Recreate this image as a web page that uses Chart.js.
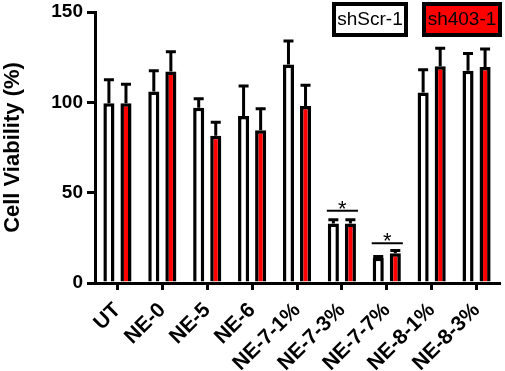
<!DOCTYPE html>
<html>
<head>
<meta charset="utf-8">
<script src="https://cdn.jsdelivr.net/npm/chart.js@4"></script>
<style>
  html, body { margin: 0; padding: 0; background: #fff; }
  #wrap { width: 505px; height: 371px; }
</style>
</head>
<body>
<div id="wrap"><canvas id="chart"></canvas></div>
<script>
  // ---- data ----
  const categories = ['UT', 'NE-0', 'NE-5', 'NE-6', 'NE-7-1%', 'NE-7-3%', 'NE-7-7%', 'NE-8-1%', 'NE-8-3%'];
  const scrMean = [99.5, 106, 97, 92.5, 121, 33, 14, 105.5, 117.5];
  const scrSd = [13, 11.5, 5, 16.5, 13, 2, 0.7, 12.5, 9.5];
  const kdMean = [99.5, 117, 81.5, 84.5, 98, 33, 16.5, 120, 119.5];
  const kdSd = [10.5, 11, 7.5, 12, 11.5, 2, 1.5, 10, 10];
  // height of the significance bar (in % units), null = none
  const sigLevel = [null, null, null, null, null, 40, 22, null, null];
  const yTicks = [0, 50, 100, 150];

  Chart.defaults.font.family = "'Liberation Sans', Arial, sans-serif";
  Chart.defaults.color = '#000';

  /*
    ==================== PLUGINS ====================
  */

  const errorBars = {
    id: 'errorBars',
    afterDatasetsDraw(chart) {
      let { ctx, scales: { y } } = chart;
      ctx.save();
      ctx.strokeStyle = '#000';
      ctx.lineWidth = 3;
      chart.data.datasets.forEach((ds, i) => {
        let meta = chart.getDatasetMeta(i);
        meta.data.forEach((bar, j) => {
          let top = y.getPixelForValue(ds.data[j] + ds.sd[j]);
          ctx.beginPath();
          ctx.moveTo(bar.x, bar.y);
          ctx.lineTo(bar.x, top);
          ctx.moveTo(bar.x - 5, top);
          ctx.lineTo(bar.x + 5, top);
          ctx.stroke();
        });
      });
      ctx.restore();
    }
  };

  const significance = {
    id: 'significance',
    afterDatasetsDraw(chart) {
      let { ctx, scales: { y } } = chart;
      let a = chart.getDatasetMeta(0).data;
      let b = chart.getDatasetMeta(1).data;
      ctx.save();
      ctx.strokeStyle = '#000';
      ctx.fillStyle = '#000';
      ctx.lineWidth = 2;
      ctx.font = "22px 'Liberation Sans', Arial, sans-serif";
      ctx.textAlign = 'center';
      ctx.textBaseline = 'alphabetic';
      sigLevel.forEach((lvl, j) => {
        if (lvl == null) return;
        let yy = y.getPixelForValue(lvl);
        let x0 = a[j].x - a[j].width / 2 - 1;
        let x1 = b[j].x + b[j].width / 2 + 2;
        ctx.beginPath();
        ctx.moveTo(x0, yy);
        ctx.lineTo(x1, yy);
        ctx.stroke();
        ctx.fillText('*', (x0 + x1) / 2, yy + 5);
      });
      ctx.restore();
    }
  };

  const boxLegend = {
    id: 'boxLegend',
    afterDraw(chart) {
      let { ctx } = chart;
      let boxes = [
        { x: 334, w: 72 },
        { x: 424, w: 76 }
      ];
      ctx.save();
      ctx.font = "19px 'Liberation Sans', Arial, sans-serif";
      ctx.textAlign = 'center';
      ctx.textBaseline = 'middle';
      chart.data.datasets.forEach((ds, i) => {
        let { x, w } = boxes[i];
        ctx.fillStyle = ds.backgroundColor;
        ctx.fillRect(x, 4, w, 31);
        ctx.strokeStyle = '#000';
        ctx.lineWidth = 4;
        ctx.strokeRect(x, 4, w, 31);
        ctx.fillStyle = '#000';
        ctx.fillText(ds.label, x + w / 2, 20);
      });
      ctx.restore();
    }
  };

  /*
    ==================== CHART ====================
  */

  new Chart(document.getElementById('chart'), {
    type: 'bar',
    data: {
      labels: categories,
      datasets: [
        {
          label: 'shScr-1',
          data: scrMean,
          sd: scrSd,
          backgroundColor: '#ffffff',
          borderColor: '#000',
          borderWidth: 3.5
        },
        {
          label: 'sh403-1',
          data: kdMean,
          sd: kdSd,
          backgroundColor: '#ff0000',
          borderColor: '#000',
          borderWidth: 3.5
        }
      ]
    },
    options: {
      responsive: true,
      maintainAspectRatio: false,
      animation: false,
      layout: { padding: { top: 12, right: 6, left: 0, bottom: 0 } },
      datasets: {
        bar: { categoryPercentage: 0.76, barPercentage: 0.65 }
      },
      plugins: {
        legend: { display: false },
        tooltip: { enabled: false }
      },
      scales: {
        x: {
          offset: true,
          afterFit: s => { s.height = 88; },
          border: { display: true, color: '#000', width: 3 },
          grid: {
            offset: false,
            drawOnChartArea: false,
            drawTicks: true,
            tickLength: 7,
            color: '#000',
            lineWidth: 3
          },
          ticks: {
            autoSkip: false,
            minRotation: 45,
            maxRotation: 45,
            padding: 8,
            color: '#000',
            font: { size: 21, weight: 'bold' }
          }
        },
        y: {
          min: 0,
          max: 150,
          afterFit: s => {
            s.width = 95;
            s.paddingTop = 0;
            s.paddingBottom = 0;
          },
          afterBuildTicks: s => { s.ticks = yTicks.map(v => ({ value: v })); },
          border: { display: true, color: '#000', width: 3 },
          grid: {
            drawOnChartArea: false,
            drawTicks: true,
            tickLength: 8,
            color: '#000',
            lineWidth: 3
          },
          ticks: {
            padding: 4,
            color: '#000',
            font: { size: 19, weight: 'bold' }
          },
          title: {
            display: true,
            text: 'Cell Viability (%)',
            color: '#000',
            padding: { top: 0, bottom: 0 },
            font: { size: 22, weight: 'bold' }
          }
        }
      }
    },
    plugins: [errorBars, significance, boxLegend]
  });
</script>
</body>
</html>
